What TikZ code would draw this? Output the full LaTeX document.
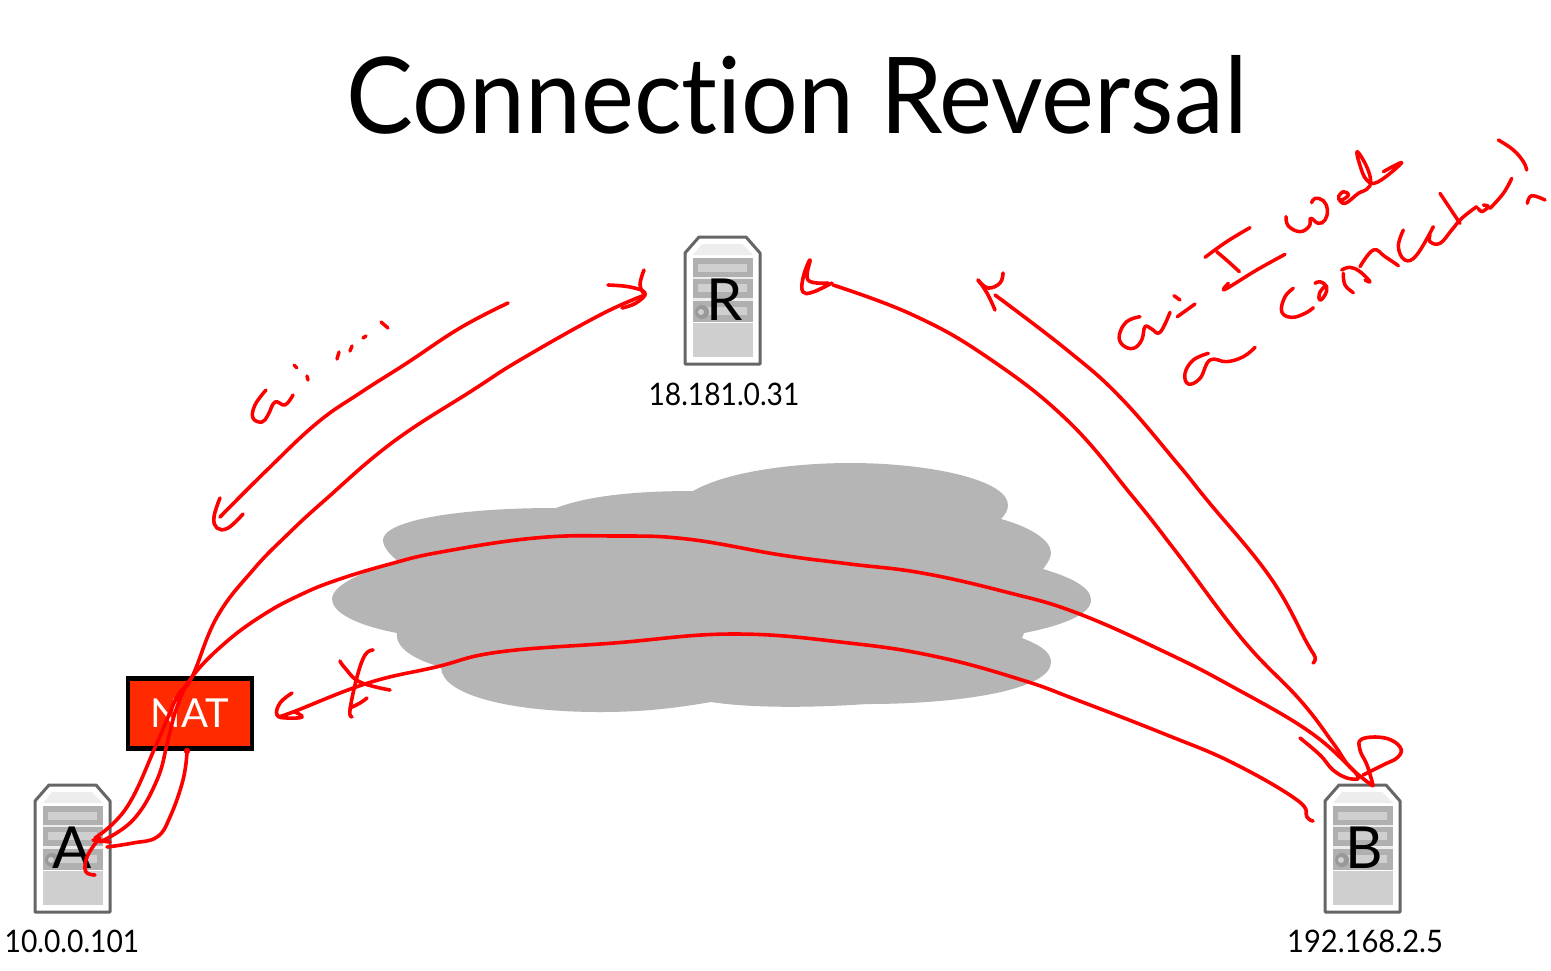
\documentclass[tikz,border=0pt]{standalone}
\usepackage{fontspec}
\setmainfont{Lato}[Ligatures=NoCommon]
\tikzset{
  ink/.style={draw=red,line width=1.8pt,line cap=round,line join=round},
  thinink/.style={ink,line width=1.75pt},
  iplabel/.style={inner sep=0pt,font=\fontsize{15.5}{18}\selectfont},
  srvletter/.style={inner sep=0pt,font=\fontsize{29}{32}\selectfont},
  server/.pic={
    \draw[draw=srvline,fill=white,line width=1.5pt,line join=round] (1,16)--(15,0)--(62,0)--(76,16)--(76,127)--(1,127)--cycle;
    \fill[srvtop] (9,18)--(18,7)--(58,7)--(69,18)--cycle;
    \fill[srvdark] (9,21) rectangle (69,85);
    \fill[white!85!gray] (9,40) rectangle (69,42);
    \fill[white!85!gray] (9,61) rectangle (69,64);
    \fill[srvlight] (14,27) rectangle (63,35);
    \fill[srvlight] (14,47) rectangle (63,55);
    \fill[srvlight] (14,70) rectangle (63,78);
    \fill[srvlight] (9,86) rectangle (69,120);
    \fill[srvdisk] (18,75) circle [radius=7];
    \fill[srvlight] (17,75) circle [radius=3];
  }
}
\definecolor{cloudgray}{HTML}{B5B5B5}
\definecolor{srvline}{HTML}{666666}
\definecolor{srvtop}{HTML}{EDEDED}
\definecolor{srvdark}{HTML}{B0B0B0}
\definecolor{srvlight}{HTML}{CFCFCF}
\definecolor{srvdisk}{HTML}{999999}
\definecolor{natred}{HTML}{FF2A00}
\newcommand\inkline[1]{\draw[ink] plot[smooth,tension=.7] coordinates {#1};}
\newcommand\handline[1]{\draw[thinink] plot[smooth,tension=.7] coordinates {#1};}
\begin{document}
\begin{tikzpicture}[x=0.5pt,y=-0.5pt]
\useasboundingbox (0,0) rectangle (1551,970);
\fill[white] (0,0) rectangle (1551,970);
\node[inner sep=0pt,font=\fontsize{53}{60}\selectfont] (title) at (797,95) {\scalebox{0.945}[1]{Connection Reversal}};
% cloud
\fill[cloudgray] (556,508) .. controls (590,495) and (640,491) .. (693,491)
  .. controls (730,470) and (800,463) .. (850,463)
  .. controls (930,463) and (1008,480) .. (1008,505)
  .. controls (1008,510) and (1005,515) .. (1001,519)
  .. controls (1030,527) and (1051,540) .. (1051,553)
  .. controls (1051,558) and (1047,564) .. (1043,569)
  .. controls (1070,577) and (1091,587) .. (1091,600)
  .. controls (1091,615) and (1060,626) .. (1024,633) -- (1022,638)
  .. controls (1040,645) and (1051,652) .. (1051,662)
  .. controls (1051,690) and (960,704) .. (867,704)
  .. controls (810,708) and (750,708) .. (711,702)
  .. controls (670,709) and (640,712) .. (600,712)
  .. controls (510,712) and (441,695) .. (441,667)
  .. controls (415,660) and (395,648) .. (397,633)
  .. controls (355,625) and (332,612) .. (332,599)
  .. controls (332,585) and (365,570) .. (399,562)
  .. controls (390,555) and (383,547) .. (383,540)
  .. controls (383,522) and (450,508) .. (556,508) -- cycle;
% servers
\pic (srvR) at (684,237) {server};
\pic (srvA) at (34,785) {server};
\pic (srvB) at (1324,785) {server};
\node[srvletter] (R) at (725,300) {R};
\node[srvletter] (A) at (72,848) {A};
\node[srvletter] (B) at (1364,848) {B};
\node[iplabel] (ipR) at (724,394) {\scalebox{0.91}[1]{18.181.0.31}};
\node[iplabel] (ipA) at (72,941) {\scalebox{0.91}[1]{10.0.0.101}};
\node[iplabel] (ipB) at (1365,941) {\scalebox{0.94}[1]{192.168.2.5}};
% NAT
\node[draw=black,fill=natred,line width=2.3pt,minimum width=62pt,minimum height=35pt,inner sep=0pt,text=white,font=\fontsize{20}{22}\selectfont] (NAT) at (190,713.5) {NAT};
% A to R
\inkline{(95,838)(127,807)(157,743)(177,697)(192,677)(217,617)(253,570)(287,535)(325,500)(393,442)(473,390)(520,360)(600,315)(645,295)}
\inkline{(608,285)(630,287)(645,293)(636,303)(622,308)}
\inkline{(644,270)(640,285)(645,295)}
% R to A
\inkline{(508,303)(460,328)(407,363)(360,393)(317,423)(267,470)(220,517)}
\inkline{(220,498)(214,517)(217,528)(228,528)(243,514)}
% a: ....
\handline{(266,390)(255,405)(253,418)(262,422)(268,415)(275,402)(285,405)(293,395)}
\handline{(294,365)(297,368)}
\handline{(307,376)(308,380)}
\handline{(339,352)(337,359)}
\handline{(352,346)(350,351)}
\handline{(366,336)(363,338)}
\handline{(381,322)(388,328)}
% A to B across cloud
\inkline{(100,842)(133,820)(157,780)(168,740)(177,707)(192,677)(225,643)(263,615)(300,595)(337,580)(390,564)(441,552)(535,538)(614,536)(687,539)(781,555)(850,564)(922,573)(1006,592)(1077,613)(1167,653)(1233,687)(1307,730)(1350,767)(1358,778)}
% B to R
\inkline{(1373,786)(1350,767)(1333,743)(1300,700)(1243,640)(1177,553)(1133,497)(1067,420)(987,357)(913,315)(833,285)}
\inkline{(832,283)(813,292)(803,292)(803,278)(810,260)(808,280)(828,283)}
% R-side arrow, B up
\inkline{(1313,663)(1315,657)(1307,643)(1270,577)(1207,500)(1177,463)(1120,397)(1067,350)(995,295)}
\inkline{(1003,273)(1000,283)(988,288)(978,280)}
\inkline{(978,280)(987,293)(995,310)}
% B tick and loop
\inkline{(1300,738)(1320,755)(1333,770)(1347,778)(1358,779)}
\inkline{(1373,785)(1367,765)(1360,750)(1362,739)(1385,738)(1400,747)(1398,757)(1383,765)(1363,775)}
% B to NAT, blocked
\inkline{(1313,821)(1307,817)(1297,800)(1233,763)(1167,735)(1077,700)(1022,680)(938,657)(849,643)(734,634)(614,643)(499,652)(436,667)(368,683)(293,712)(280,716)}
\inkline{(292,693)(280,703)(277,715)(287,718)(302,717)(295,712)}
\inkline{(373,650)(365,655)(357,677)(350,710)(352,717)}
\inkline{(340,661)(345,668)(360,682)(390,690)}
\inkline{(367,698)(360,703)(350,708)}
% NAT to A
\inkline{(187,752)(183,780)(170,817)(157,837)(133,843)(107,847)}
\draw[ink] (187,751) circle [radius=1.5];
\inkline{(110,842)(93,840)}
\inkline{(100,838)(92,848)(86,860)(86,872)(95,875)}
% handwriting, in 3x zoom coordinates
\begin{scope}[shift={(1100,130)},x=0.16667pt,y=-0.16667pt]
\handline{(120,560)(80,575)(58,615)(68,645)(100,655)(125,630)(135,590)(155,597)(180,607)(210,547)}
\handline{(222,497)(240,510)}
\handline{(232,560)(285,522)}
\handline{(315,382)(380,335)(450,293)}
\handline{(350,365)(385,395)(418,425)}
\handline{(555,373)(470,420)(375,478)(385,460)}
\handline{(558,260)(565,288)(600,305)(628,288)(632,265)(655,280)(675,270)(682,240)(670,212)(645,205)(635,218)}
\handline{(715,200)(730,185)(745,195)(725,210)(715,205)(735,220)(775,190)(800,178)(812,155)(800,110)(772,65)(778,100)(800,150)(835,155)(905,98)(850,125)}
\handline{(325,670)(280,690)(255,730)(265,762)(300,745)(330,690)(380,695)(430,680)(465,652)}
\handline{(580,475)(555,500)(545,545)(575,562)(615,550)(640,533)}
\handline{(645,460)(660,455)(680,470)(675,495)(660,510)(658,490)(675,468)}
\handline{(730,430)(735,465)(760,488)}
\handline{(725,420)(750,412)(780,425)(810,455)(795,450)}
\handline{(780,410)(820,360)(855,380)(895,407)}
\handline{(910,300)(895,350)(915,390)(950,375)(1000,290)}
\handline{(1020,190)(1050,235)(1080,280)}
\handline{(990,315)(990,335)(1020,340)(1055,300)(1085,265)(1130,230)}
\handline{(1150,225)(1165,230)(1145,245)(1135,235)}
\handline{(1170,235)(1210,190)(1235,145)}
\handline{(1195,30)(1240,60)(1270,95)(1280,120)}
\handline{(1282,220)(1295,197)(1335,210)}
\end{scope}
\end{tikzpicture}
\end{document}
